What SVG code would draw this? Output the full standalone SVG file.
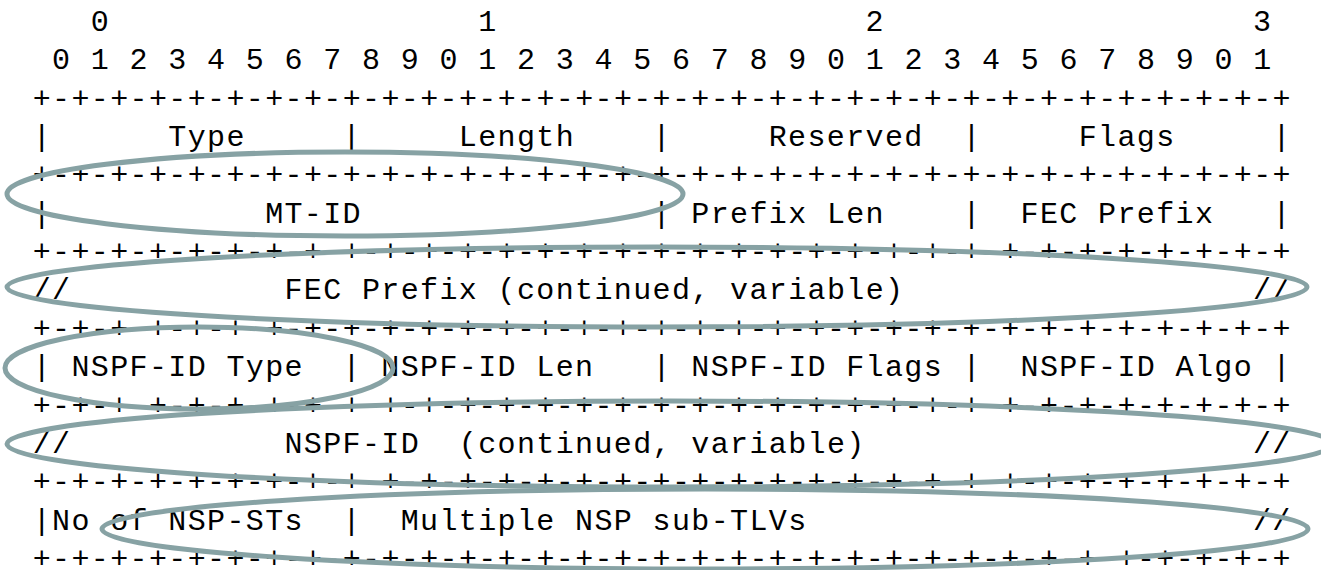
<svg xmlns="http://www.w3.org/2000/svg" xmlns:xlink="http://www.w3.org/1999/xlink" width="1321" height="570" viewBox="0 0 1321 570">
<style>
  .t { font-family: "Liberation Mono", "Courier New", monospace; font-size: 30px; letter-spacing: 1.37px; fill: #000; }
  .ov { fill: none; stroke: #87a2a4; stroke-width: 5; }
</style>
<defs>
  <text id="sep" class="t" x="32.7" y="0">+-+-+-+-+-+-+-+-+-+-+-+-+-+-+-+-+-+-+-+-+-+-+-+-+-+-+-+-+-+-+-+-+</text>
</defs>
<rect width="1321" height="570" fill="#fff"/>
<g id="ruler">
  <text class="t" y="31"><tspan x="90.81">0</tspan><tspan x="478.21">1</tspan><tspan x="865.61">2</tspan><tspan x="1253.01">3</tspan></text>
  <text class="t" x="52.07" y="69.35">0 1 2 3 4 5 6 7 8 9 0 1 2 3 4 5 6 7 8 9 0 1 2 3 4 5 6 7 8 9 0 1</text>
</g>
<g id="separators">
  <use xlink:href="#sep" y="107.7"/>
  <use xlink:href="#sep" y="184.4"/>
  <use xlink:href="#sep" y="261.1"/>
  <use xlink:href="#sep" y="337.8"/>
  <use xlink:href="#sep" y="414.5"/>
  <use xlink:href="#sep" y="491.2"/>
  <use xlink:href="#sep" y="567.9"/>
</g>
<g id="row1">
  <text class="t" y="146.05"><tspan x="32.7">|</tspan><tspan x="168.29">Type</tspan><tspan x="342.62">|</tspan><tspan x="458.84">Length</tspan><tspan x="652.54">|</tspan><tspan x="768.76">Reserved</tspan><tspan x="962.46">|</tspan><tspan x="1078.68">Flags</tspan><tspan x="1272.38">|</tspan></text>
</g>
<g id="row2">
  <text class="t" y="222.75"><tspan x="32.7">|</tspan><tspan x="265.14">MT-ID</tspan><tspan x="652.54">|</tspan><tspan x="691.28">Prefix Len</tspan><tspan x="962.46">|</tspan><tspan x="1020.57">FEC Prefix</tspan><tspan x="1272.38">|</tspan></text>
</g>
<g id="row3">
  <text class="t" y="299.45"><tspan x="32.7">//</tspan><tspan x="284.51">FEC Prefix (continued, variable)</tspan><tspan x="1253.01">//</tspan></text>
</g>
<g id="row4">
  <text class="t" y="376.15"><tspan x="32.7">|</tspan><tspan x="71.44">NSPF-ID Type</tspan><tspan x="342.62">|</tspan><tspan x="381.36">NSPF-ID Len</tspan><tspan x="652.54">|</tspan><tspan x="691.28">NSPF-ID Flags</tspan><tspan x="962.46">|</tspan><tspan x="1020.57">NSPF-ID Algo</tspan><tspan x="1272.38">|</tspan></text>
</g>
<g id="row5">
  <text class="t" y="452.85"><tspan x="32.7">//</tspan><tspan x="284.51">NSPF-ID</tspan><tspan x="458.84">(continued, variable)</tspan><tspan x="1253.01">//</tspan></text>
</g>
<g id="row6">
  <text class="t" y="529.55"><tspan x="32.7">|</tspan><tspan x="52.07">No of NSP-STs</tspan><tspan x="342.62">|</tspan><tspan x="400.73">Multiple NSP sub-TLVs</tspan><tspan x="1253.01">//</tspan></text>
</g>
<g id="highlights">
  <ellipse class="ov" cx="345" cy="194" rx="338" ry="42"/>
  <ellipse class="ov" cx="657" cy="287" rx="650" ry="40"/>
  <ellipse class="ov" cx="199" cy="368" rx="194" ry="41"/>
  <ellipse class="ov" cx="670" cy="444" rx="663" ry="43"/>
  <ellipse class="ov" cx="705" cy="529" rx="603" ry="40"/>
</g>
</svg>
